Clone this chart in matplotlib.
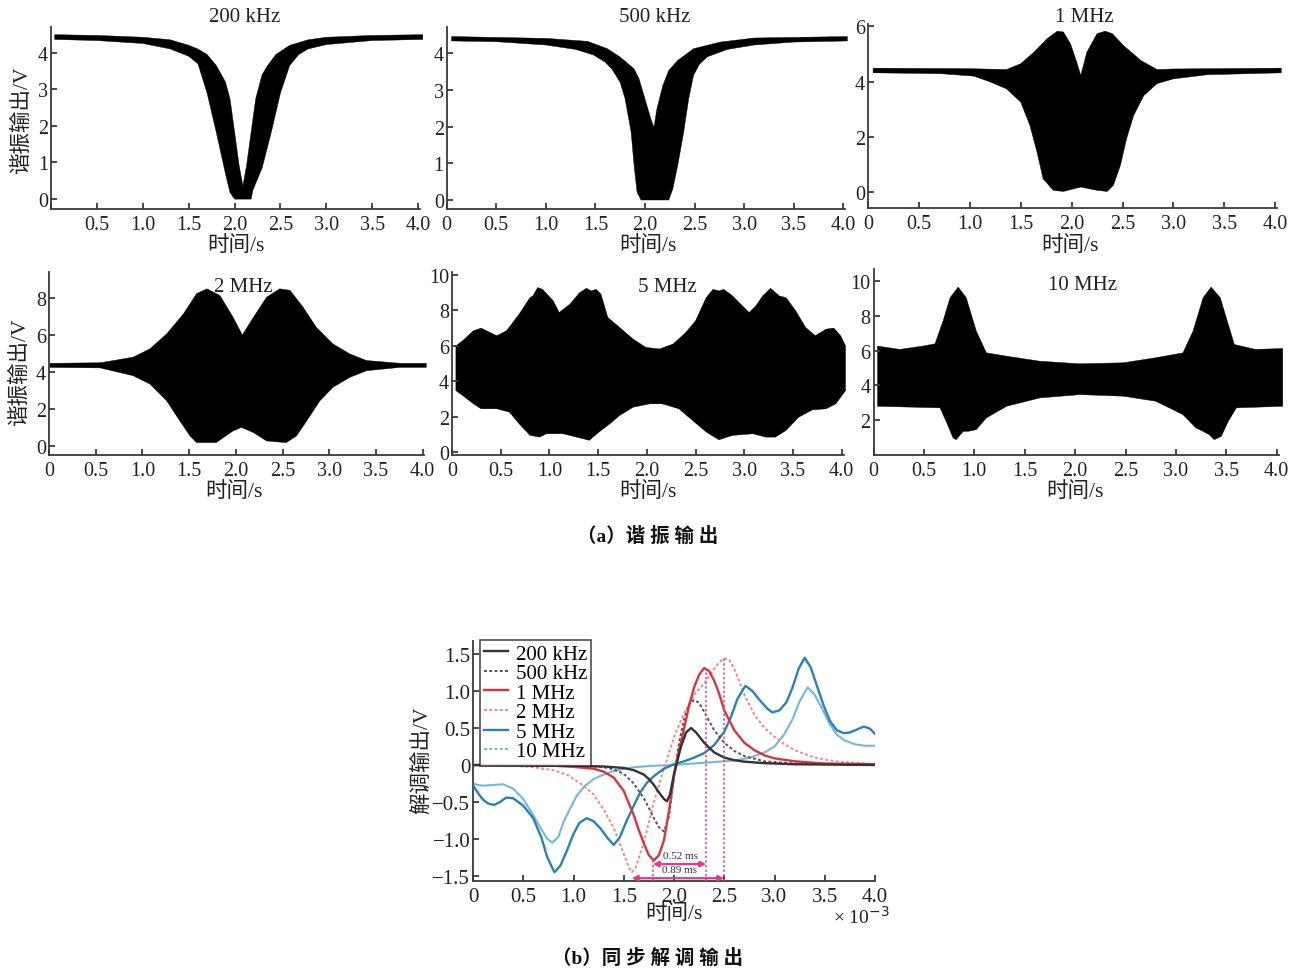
import numpy as np
import matplotlib
matplotlib.use("Agg")
import matplotlib.pyplot as plt
from matplotlib.lines import Line2D

plt.rcParams['font.family'] = ['Liberation Serif', 'Noto Sans CJK SC']
plt.rcParams['axes.unicode_minus'] = True

# ---------------- data: resonance output envelopes (upper / lower) ----------------
titles = ["200 kHz", "500 kHz", "1 MHz", "2 MHz", "5 MHz", "10 MHz"]

t200_up = [0.04, 0.5, 1.0, 1.3, 1.5, 1.6, 1.7, 1.8, 1.9, 1.95, 2.0, 2.05, 2.09, 2.13, 2.18, 2.23, 2.3, 2.36, 2.45, 2.6, 2.8, 3.0, 3.5, 4.05]
v200_up = [4.49, 4.47, 4.42, 4.35, 4.2, 4.1, 3.95, 3.65, 3.2, 2.74, 1.83, 0.91, 0.36, 0.91, 1.83, 2.74, 3.4, 3.65, 3.95, 4.2, 4.35, 4.42, 4.47, 4.49]
t200_lo = [0.04, 0.5, 1.0, 1.3, 1.5, 1.6, 1.7, 1.8, 1.9, 1.95, 2.0, 2.18, 2.2, 2.3, 2.4, 2.5, 2.6, 2.7, 2.8, 3.0, 3.5, 4.05]
v200_lo = [4.36, 4.33, 4.25, 4.1, 3.9, 3.7, 2.9, 1.83, 0.7, 0.18, 0.0, 0.0, 0.25, 0.85, 1.83, 2.9, 3.65, 3.95, 4.1, 4.22, 4.33, 4.36]

t500_up = [0.05, 1.0, 1.42, 1.62, 1.75, 1.89, 1.94, 2.0, 2.06, 2.09, 2.12, 2.18, 2.24, 2.33, 2.49, 2.76, 3.1, 4.04]
v500_up = [4.45, 4.4, 4.32, 4.12, 3.89, 3.57, 3.3, 2.75, 2.2, 1.98, 2.48, 3.12, 3.53, 3.8, 4.12, 4.3, 4.41, 4.45]
t500_lo = [0.05, 0.5, 1.0, 1.3, 1.48, 1.6, 1.67, 1.75, 1.8, 1.86, 1.89, 1.92, 1.96, 2.24, 2.28, 2.33, 2.39, 2.44, 2.49, 2.55, 2.63, 2.83, 3.1, 3.5, 4.04]
v500_lo = [4.33, 4.31, 4.22, 4.1, 3.95, 3.75, 3.55, 3.2, 2.75, 1.85, 0.94, 0.21, 0.0, 0.0, 0.3, 0.94, 1.85, 2.75, 3.4, 3.7, 3.9, 4.1, 4.22, 4.3, 4.33]

t1m_up = [0.05, 1.0, 1.36, 1.5, 1.63, 1.76, 1.86, 1.92, 1.99, 2.05, 2.09, 2.15, 2.25, 2.33, 2.4, 2.51, 2.68, 2.84, 3.0, 4.06]
v1m_up = [4.49, 4.47, 4.44, 4.65, 5.07, 5.56, 5.83, 5.8, 5.37, 4.71, 4.23, 5.07, 5.74, 5.83, 5.74, 5.31, 4.77, 4.44, 4.46, 4.49]
t1m_lo = [0.05, 0.71, 1.04, 1.2, 1.36, 1.5, 1.59, 1.66, 1.72, 1.82, 1.92, 2.09, 2.25, 2.35, 2.41, 2.48, 2.54, 2.61, 2.71, 2.84, 3.0, 3.33, 4.06]
v1m_lo = [4.32, 4.29, 4.2, 3.99, 3.74, 3.26, 2.42, 1.45, 0.48, 0.06, 0.02, 0.18, 0.06, 0.02, 0.24, 0.97, 1.93, 2.78, 3.5, 3.93, 4.1, 4.25, 4.32]

t2m_up = [0.01, 0.55, 0.9, 1.08, 1.26, 1.44, 1.58, 1.69, 1.83, 1.97, 2.07, 2.19, 2.33, 2.47, 2.58, 2.72, 2.86, 3.04, 3.22, 3.4, 3.76, 4.04]
v2m_up = [4.47, 4.5, 4.8, 5.25, 6.06, 7.15, 8.24, 8.5, 8.14, 6.97, 6.0, 6.97, 8.05, 8.5, 8.42, 7.51, 6.43, 5.52, 4.98, 4.62, 4.47, 4.47]
t2m_lo = [0.01, 0.55, 0.9, 1.08, 1.26, 1.4, 1.51, 1.58, 1.79, 1.97, 2.06, 2.19, 2.33, 2.54, 2.65, 2.76, 2.9, 3.04, 3.22, 3.4, 3.76, 4.04]
v2m_lo = [4.25, 4.22, 3.8, 3.35, 2.44, 1.36, 0.54, 0.18, 0.18, 0.81, 1.0, 0.72, 0.27, 0.18, 0.54, 1.36, 2.44, 3.17, 3.71, 4.07, 4.25, 4.25]

t5m_up = [0.04, 0.11, 0.22, 0.3, 0.39, 0.46, 0.56, 0.69, 0.8, 0.83, 0.88, 0.93, 1.04, 1.1, 1.21, 1.31, 1.38, 1.43, 1.48, 1.53, 1.6, 1.72, 1.86, 1.99, 2.13, 2.27, 2.4, 2.5, 2.61, 2.68, 2.74, 2.79, 2.88, 3.05, 3.12, 3.19, 3.27, 3.36, 3.43, 3.53, 3.63, 3.73, 3.84, 3.92, 3.99, 4.04]
v5m_up = [6.0, 6.29, 6.85, 7.0, 6.75, 6.57, 6.85, 7.79, 8.72, 8.82, 9.29, 9.19, 8.54, 7.88, 8.35, 9.0, 9.25, 9.1, 9.19, 8.91, 7.6, 7.04, 6.38, 5.91, 5.82, 6.1, 6.75, 7.41, 8.72, 9.19, 9.1, 9.19, 8.82, 7.88, 8.26, 8.82, 9.25, 8.82, 8.72, 7.97, 7.04, 6.57, 6.94, 7.0, 6.57, 6.0]
t5m_lo = [0.04, 0.11, 0.22, 0.3, 0.46, 0.59, 0.69, 0.8, 0.9, 0.97, 1.14, 1.28, 1.41, 1.51, 1.62, 1.72, 1.86, 2.03, 2.16, 2.33, 2.47, 2.61, 2.74, 2.88, 3.09, 3.22, 3.32, 3.43, 3.56, 3.7, 3.84, 3.94, 4.04]
v5m_lo = [3.47, 3.19, 2.72, 2.44, 2.44, 2.25, 1.59, 0.94, 0.84, 1.03, 1.03, 0.84, 0.66, 1.13, 1.59, 2.06, 2.53, 2.72, 2.72, 2.44, 1.78, 1.13, 0.69, 0.94, 1.03, 0.84, 0.84, 1.22, 1.97, 2.38, 2.44, 2.72, 3.47]

t10m_up = [0.04, 0.26, 0.49, 0.61, 0.69, 0.76, 0.84, 0.92, 1.02, 1.12, 1.32, 1.65, 2.05, 2.48, 2.8, 3.07, 3.17, 3.27, 3.35, 3.44, 3.52, 3.58, 3.79, 4.06]
v10m_up = [6.26, 6.07, 6.26, 6.39, 7.7, 9.04, 9.65, 9.04, 7.12, 5.87, 5.68, 5.39, 5.24, 5.3, 5.59, 5.87, 7.12, 9.04, 9.65, 9.04, 7.5, 6.35, 6.07, 6.12]
t10m_lo = [0.04, 0.66, 0.72, 0.79, 0.82, 0.89, 0.94, 1.02, 1.12, 1.32, 1.65, 2.05, 2.48, 2.8, 3.07, 3.2, 3.27, 3.33, 3.38, 3.45, 3.52, 3.6, 4.06]
v10m_lo = [2.8, 2.71, 1.94, 0.98, 0.88, 1.36, 1.36, 1.46, 2.13, 2.8, 3.28, 3.47, 3.38, 3.09, 2.32, 1.55, 1.36, 1.17, 0.88, 1.07, 1.94, 2.71, 2.8]

# ---------------- data: synchronous demodulation output ----------------
labels_b = ["200 kHz", "500 kHz", "1 MHz", "2 MHz", "5 MHz", "10 MHz"]

tb_200k = [0, 0.5, 1.0, 1.3, 1.5, 1.6, 1.7, 1.75, 1.8, 1.85, 1.9, 1.93, 1.96, 2.0, 2.03, 2.07, 2.12, 2.17, 2.22, 2.3, 2.4, 2.5, 2.6, 2.7, 2.9, 3.2, 3.6, 4.0]
vb_200k = [0, -0.005, -0.01, -0.02, -0.04, -0.07, -0.13, -0.19, -0.27, -0.37, -0.46, -0.49, -0.4, -0.12, 0.04, 0.25, 0.44, 0.5, 0.44, 0.3, 0.17, 0.1, 0.065, 0.045, 0.025, 0.01, 0.005, 0.0]

tb_500k = [0, 0.5, 1.0, 1.2, 1.3, 1.4, 1.5, 1.6, 1.7, 1.75, 1.8, 1.85, 1.9, 1.95, 2.0, 2.05, 2.1, 2.15, 2.2, 2.25, 2.3, 2.4, 2.5, 2.6, 2.7, 2.9, 3.2, 4.0]
vb_500k = [0, -0.005, -0.01, -0.02, -0.03, -0.06, -0.12, -0.25, -0.45, -0.58, -0.72, -0.84, -0.9, -0.7, -0.15, 0.3, 0.62, 0.82, 0.88, 0.84, 0.72, 0.47, 0.3, 0.19, 0.12, 0.05, 0.02, 0.0]

tb_1m = [0, 0.5, 0.8, 1.0, 1.2, 1.3, 1.4, 1.5, 1.6, 1.65, 1.7, 1.75, 1.8, 1.85, 1.9, 1.95, 2.0, 2.05, 2.1, 2.15, 2.2, 2.25, 2.3, 2.35, 2.4, 2.45, 2.5, 2.6, 2.7, 2.8, 2.9, 3.0, 3.2, 3.5, 4.0]
vb_1m = [0, -0.005, -0.01, -0.025, -0.05, -0.09, -0.17, -0.35, -0.68, -0.88, -1.06, -1.22, -1.29, -1.22, -1.02, -0.62, -0.15, 0.2, 0.49, 0.8, 1.05, 1.22, 1.31, 1.27, 1.14, 0.96, 0.74, 0.47, 0.3, 0.2, 0.13, 0.09, 0.05, 0.02, 0.01]

tb_2m = [0, 0.4, 0.6, 0.8, 0.95, 1.1, 1.2, 1.3, 1.4, 1.5, 1.55, 1.58, 1.62, 1.7, 1.8, 1.9, 2.0, 2.1, 2.2, 2.3, 2.4, 2.45, 2.5, 2.55, 2.6, 2.7, 2.8, 2.9, 3.0, 3.1, 3.2, 3.4, 3.6, 3.8, 4.0]
vb_2m = [0, -0.01, -0.03, -0.07, -0.14, -0.28, -0.4, -0.6, -0.85, -1.2, -1.38, -1.45, -1.38, -1.05, -0.5, -0.05, 0.38, 0.7, 0.95, 1.1, 1.3, 1.39, 1.44, 1.42, 1.3, 0.95, 0.68, 0.5, 0.38, 0.28, 0.2, 0.1, 0.05, 0.03, 0.015]

tb_5m = [0, 0.05, 0.1, 0.15, 0.21, 0.27, 0.33, 0.4, 0.5, 0.6, 0.68, 0.74, 0.81, 0.87, 0.94, 1.0, 1.06, 1.13, 1.2, 1.27, 1.34, 1.4, 1.46, 1.53, 1.6, 1.66, 1.73, 1.8, 1.9, 2.0, 2.1, 2.2, 2.3, 2.4, 2.5, 2.57, 2.63, 2.71, 2.78, 2.85, 2.93, 2.98, 3.05, 3.12, 3.18, 3.24, 3.3, 3.36, 3.42, 3.49, 3.55, 3.62, 3.69, 3.75, 3.82, 3.89, 3.95, 4.0]
vb_5m = [-0.27, -0.38, -0.47, -0.52, -0.54, -0.5, -0.44, -0.45, -0.55, -0.72, -0.98, -1.25, -1.45, -1.36, -1.14, -0.93, -0.78, -0.72, -0.76, -0.86, -0.99, -1.08, -0.98, -0.75, -0.55, -0.38, -0.24, -0.15, -0.05, 0.01, 0.05, 0.1, 0.16, 0.27, 0.45, 0.66, 0.89, 1.07, 1.0, 0.88, 0.76, 0.71, 0.74, 0.85, 1.05, 1.3, 1.45, 1.32, 1.08, 0.8, 0.6, 0.47, 0.43, 0.44, 0.48, 0.52, 0.49, 0.42]

tb_10m = [0, 0.05, 0.1, 0.2, 0.3, 0.4, 0.5, 0.6, 0.68, 0.74, 0.79, 0.85, 0.9, 0.97, 1.03, 1.1, 1.2, 1.3, 1.4, 1.6, 1.8, 2.0, 2.2, 2.4, 2.6, 2.76, 2.9, 3.0, 3.1, 3.18, 3.25, 3.33, 3.4, 3.47, 3.55, 3.62, 3.7, 3.8, 3.9, 4.0]
vb_10m = [-0.25, -0.27, -0.28, -0.27, -0.26, -0.32, -0.46, -0.68, -0.87, -1.0, -1.05, -0.97, -0.77, -0.58, -0.42, -0.3, -0.19, -0.13, -0.08, -0.03, -0.01, 0.0, 0.02, 0.04, 0.06, 0.1, 0.17, 0.25, 0.42, 0.62, 0.86, 1.05, 0.95, 0.77, 0.55, 0.41, 0.33, 0.28, 0.26, 0.26]

# annotation markers (time, ms) and delays
mark_1m_min = (1.79, -1.29)
mark_1m_max = (2.32, 1.31)
mark_2m_min = (1.58, -1.45)
mark_2m_max = (2.50, 1.44)
delay_labels = ["0.52 ms", "0.89 ms"]

# ---------------- figure ----------------
W, H = 1308, 970
fig = plt.figure(figsize=(W / 100, H / 100), dpi=100)


def add_ax(x0, x_per_unit, xmax, y_bottom_px, y_top_px):
    width = x_per_unit * xmax
    return fig.add_axes([x0 / W, 1 - y_bottom_px / H, width / W, (y_bottom_px - y_top_px) / H])


spine_col = '#3a3a3a'
txt_col = '#222222'


def style(ax, fs=14.5):
    for s in ['top', 'right']:
        ax.spines[s].set_visible(False)
    for s in ['left', 'bottom']:
        ax.spines[s].set_color(spine_col)
        ax.spines[s].set_linewidth(1.3)
    ax.tick_params(direction='in', length=4.5, width=1.3, color=spine_col,
                   labelsize=fs, labelcolor=txt_col)
    ax.tick_params(axis='x', pad=4)
    ax.tick_params(axis='y', pad=2)


xt = [0, 0.5, 1.0, 1.5, 2.0, 2.5, 3.0, 3.5, 4.0]
xtl = ["0", "0.5", "1.0", "1.5", "2.0", "2.5", "3.0", "3.5", "4.0"]

panels = [
    # x0, px/unit, y_bottom, y_top, ylim, yticks, up, lo, show x=0 label
    (51.0, 91.8, 210, 28, (-0.27, 4.7), [0, 1, 2, 3, 4], (t200_up, v200_up), (t200_lo, v200_lo), False),
    (446.6, 99.2, 210, 28, (-0.245, 4.71), [0, 1, 2, 3, 4], (t500_up, v500_up), (t500_lo, v500_lo), True),
    (868.0, 101.8, 209, 25, (-0.58, 6.09), [0, 2, 4, 6], (t1m_up, v1m_up), (t1m_lo, v1m_lo), True),
    (49.0, 93.4, 456, 273, (-0.49, 9.41), [0, 2, 4, 6, 8], (t2m_up, v2m_up), (t2m_lo, v2m_lo), True),
    (452.0, 97.4, 456, 273, (-0.17, 10.17), [0, 2, 4, 6, 8, 10], (t5m_up, v5m_up), (t5m_lo, v5m_lo), True),
    (873.5, 100.8, 456, 270, (0.0, 10.69), [2, 4, 6, 8, 10], (t10m_up, v10m_up), (t10m_lo, v10m_lo), True),
]

for (x0, ppu, yb, yt, ylim, yticks, up, lo, show0) in panels:
    ax = add_ax(x0, ppu, 4.02, yb, yt)
    xs = np.r_[np.array(up[0]), np.array(lo[0])[::-1]]
    ys = np.r_[np.array(up[1]), np.array(lo[1])[::-1]]
    ax.fill(xs, ys, color='black', lw=0.3, clip_on=False)
    ax.set_xlim(0, 4.02)
    ax.set_ylim(*ylim)
    ax.set_yticks(yticks)
    ax.set_xticks(xt)
    ax.set_xticklabels(xtl if show0 else [""] + xtl[1:])
    style(ax)

# panel titles
title_pos = [(245, 18), (655, 18), (1084, 18), (243, 287), (667, 287), (1082, 286)]
for txt, (px, py) in zip(titles, title_pos):
    fig.text(px / W, 1 - py / H, txt, ha='center', va='center', fontsize=15, color=txt_col)

# axis labels for top panels
for (px, py) in [(236, 246), (648, 246), (1070, 246), (234, 492), (648, 492), (1075, 492)]:
    fig.text(px / W, 1 - py / H, "时间/s", ha='center', va='center', fontsize=15.5, color=txt_col)
for (px, py) in [(22, 120), (20, 372)]:
    fig.text(px / W, 1 - py / H, "谐振输出/V", ha='center', va='center', rotation=90,
             fontsize=15.5, color=txt_col)

fig.text(648 / W, 1 - 536 / H, "（a）谐 振 输 出", ha='center', va='center', fontsize=14,
         fontweight='bold', color='#111111')

# ---------------- bottom panel ----------------
axb = add_ax(473, 100.5, 4.0, 882, 642)
c_blk = '#333333'
c_red = '#d9343c'
c_red2 = '#f2858b'
c_blu = '#2a80b9'
c_blu2 = '#72b8df'
c_gry = '#555555'
mag = '#e8388a'

dot = (0, (1.5, 1.2))
axb.plot(tb_10m, vb_10m, color=c_blu2, lw=1.5, zorder=2)
axb.plot(tb_5m, vb_5m, color=c_blu, lw=1.7, zorder=3)
axb.plot(tb_2m, vb_2m, color=c_red2, lw=1.4, ls=dot, zorder=2)
axb.plot(tb_500k, vb_500k, color=c_gry, lw=1.4, ls=dot, zorder=3)
axb.plot(tb_1m, vb_1m, color=c_red, lw=1.7, zorder=4)
axb.plot(tb_200k, vb_200k, color=c_blk, lw=1.7, zorder=5)

axb.set_xlim(0, 4.0)
axb.set_ylim(-1.568, 1.676)
axb.set_xticks(xt)
axb.set_xticklabels(xtl)
axb.set_yticks([-1.5, -1.0, -0.5, 0, 0.5, 1.0, 1.5])
axb.set_yticklabels(["\u22121.5", "\u22121.0", "\u22120.5", "0", "0.5", "1.0", "1.5"])
style(axb, fs=15)

# vertical dotted guide lines
ybot = -1.568
for (mx, my) in [mark_1m_min, mark_1m_max, mark_2m_max]:
    axb.plot([mx, mx], [ybot, my], color=mag, lw=1.1, ls=(0, (1.5, 1.5)), zorder=6)

# delay arrows
y_arr1, y_arr2 = -1.34, -1.53
axb.annotate('', xy=(mark_1m_max[0], y_arr1), xytext=(mark_1m_min[0], y_arr1),
             arrowprops=dict(arrowstyle='<|-|>', color=mag, lw=1.6, shrinkA=0, shrinkB=0,
                             mutation_scale=8), zorder=7)
axb.annotate('', xy=(mark_2m_max[0], y_arr2), xytext=(mark_2m_min[0], y_arr2),
             arrowprops=dict(arrowstyle='<|-|>', color=mag, lw=1.6, shrinkA=0, shrinkB=0,
                             mutation_scale=8), zorder=7, annotation_clip=False)
axb.text(2.06, -1.225, delay_labels[0], ha='center', va='center', fontsize=8, color='#333333')
axb.text(2.05, -1.415, delay_labels[1], ha='center', va='center', fontsize=8, color='#333333')

handles = [
    Line2D([], [], color=c_blk, lw=1.7),
    Line2D([], [], color=c_gry, lw=1.4, ls=dot),
    Line2D([], [], color=c_red, lw=1.7),
    Line2D([], [], color=c_red2, lw=1.4, ls=dot),
    Line2D([], [], color=c_blu, lw=1.7),
    Line2D([], [], color=c_blu2, lw=1.4, ls=dot),
]
leg = axb.legend(handles, labels_b, loc='upper left', bbox_to_anchor=(0.018, 1.005), fontsize=15,
                 frameon=True, fancybox=False, edgecolor='#222222', handlelength=1.15,
                 handletextpad=0.35, labelspacing=0.0, borderpad=0.2, borderaxespad=0.0)
leg.get_frame().set_linewidth(1.2)

fig.text(674 / W, 1 - 914 / H, "时间/s", ha='center', va='center', fontsize=15.5, color=txt_col)
fig.text(422 / W, 1 - 760 / H, "解调输出/V", ha='center', va='center', rotation=90,
         fontsize=15.5, color=txt_col)
fig.text(861 / W, 1 - 917 / H, "× 10$^{-3}$", ha='center', va='center', fontsize=14, color=txt_col)

fig.text(648 / W, 1 - 958 / H, "（b）同 步 解 调 输 出", ha='center', va='center', fontsize=14,
         fontweight='bold', color='#111111')

fig.savefig("out.png", dpi=100)
